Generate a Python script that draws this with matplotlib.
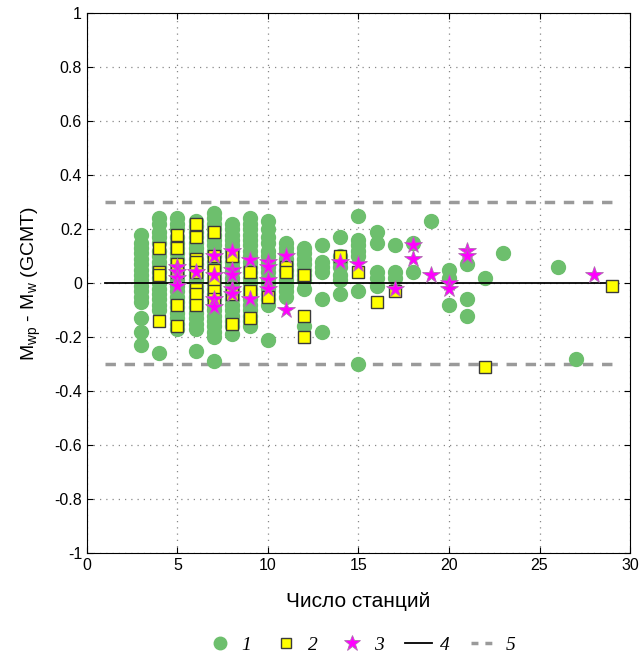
import matplotlib
matplotlib.use('Agg')
import matplotlib.pyplot as plt
from matplotlib.lines import Line2D

plt.rcParams['font.family'] = ['Liberation Sans', 'DejaVu Sans']
plt.rcParams['axes.unicode_minus'] = False
plt.rcParams['mathtext.default'] = 'regular'

# 1: все события (зелёные кружки), по числу станций
green_st = [3, 4, 5, 6, 7, 8, 9, 10, 11, 12, 13, 14, 15, 16, 17, 18, 19, 20, 21, 22, 23, 26, 27]
green_vals = [
    [0.18, 0.15, 0.13, 0.11, 0.09, 0.07, 0.05, 0.03, 0.01, -0.01, -0.03, -0.05, -0.07, -0.13, -0.18, -0.23],
    [0.24, 0.22, 0.19, 0.17, 0.15, 0.12, 0.10, 0.08, 0.06, 0.04, 0.02, 0.0, -0.02, -0.04, -0.06, -0.08, -0.10, -0.26],
    [0.24, 0.22, 0.20, 0.17, 0.15, 0.13, 0.11, 0.09, 0.07, 0.05, 0.03, 0.01, -0.01, -0.03, -0.05, -0.07, -0.09,
     -0.11, -0.13, -0.15, -0.17],
    [0.23, 0.21, 0.19, 0.17, 0.15, 0.13, 0.11, 0.09, 0.07, 0.05, 0.03, 0.01, -0.01, -0.03, -0.05, -0.07, -0.09,
     -0.11, -0.13, -0.15, -0.17, -0.25],
    [0.26, 0.24, 0.22, 0.20, 0.18, 0.16, 0.14, 0.12, 0.10, 0.08, 0.06, 0.04, 0.02, 0.0, -0.02, -0.04, -0.06,
     -0.08, -0.10, -0.12, -0.14, -0.16, -0.18, -0.20, -0.29],
    [0.22, 0.20, 0.18, 0.16, 0.14, 0.12, 0.10, 0.08, 0.06, 0.04, 0.02, 0.0, -0.02, -0.04, -0.06, -0.08, -0.10,
     -0.12, -0.14, -0.16, -0.19],
    [0.24, 0.22, 0.20, 0.18, 0.16, 0.14, 0.12, 0.10, 0.08, 0.06, 0.04, 0.02, 0.0, -0.02, -0.04, -0.06, -0.08,
     -0.10, -0.12, -0.14, -0.16],
    [0.23, 0.20, 0.17, 0.15, 0.12, 0.10, 0.08, 0.06, 0.04, 0.02, 0.0, -0.02, -0.04, -0.06, -0.08, -0.21],
    [0.15, 0.13, 0.11, 0.09, 0.07, 0.05, 0.03, 0.01, -0.01, -0.03, -0.05],
    [0.13, 0.11, 0.09, 0.07, 0.05, 0.03, 0.01, -0.02, -0.16],
    [0.14, 0.08, 0.06, 0.04, -0.06, -0.18],
    [0.17, 0.10, 0.08, 0.06, 0.03, 0.01, -0.04],
    [0.25, 0.16, 0.14, 0.12, 0.10, -0.03, -0.30],
    [0.19, 0.15, 0.04, 0.02, -0.01],
    [0.14, 0.04, 0.02],
    [0.15, 0.04],
    [0.23],
    [0.05, 0.02, -0.08],
    [0.07, -0.06, -0.12],
    [0.02],
    [0.11],
    [0.06],
    [-0.28],
]

# 2: жёлтые квадраты
sq_st = [4, 5, 6, 7, 8, 9, 10, 11, 12, 14, 15, 16, 17, 22, 29]
sq_vals = [
    [0.13, 0.04, 0.03, -0.14],
    [0.18, 0.13, 0.07, 0.04, -0.08, -0.16],
    [0.22, 0.17, 0.09, 0.08, 0.04, -0.02, -0.04, -0.08],
    [0.19, 0.10, 0.05, 0.01, -0.03, -0.06],
    [0.10, -0.04, -0.15],
    [0.04, -0.03, -0.13],
    [-0.05],
    [0.06, 0.04],
    [0.03, -0.12, -0.20],
    [0.10],
    [0.04],
    [-0.07],
    [-0.03],
    [-0.31],
    [-0.01],
]

# 3: звёздочки
star_st = [5, 6, 7, 8, 9, 10, 11, 14, 15, 17, 18, 19, 20, 21, 28]
star_vals = [
    [0.06, 0.04, 0.02, -0.01],
    [0.04],
    [0.10, 0.03, -0.06, -0.09],
    [0.12, 0.05, 0.03, -0.02, -0.04],
    [0.085, -0.06],
    [0.08, 0.06, 0.01, -0.02],
    [0.10, -0.10],
    [0.08],
    [0.07],
    [-0.02],
    [0.14, 0.09],
    [0.03],
    [0.0, -0.02],
    [0.12, 0.10],
    [0.03],
]

# 4, 5: линии
line_x = [1, 29]
zero_y = 0.0
band = 0.3


def flatten(stations, values):
    xs, ys = [], []
    for s, vals in zip(stations, values):
        xs += [s] * len(vals)
        ys += vals
    return xs, ys


fig = plt.figure(figsize=(6.39, 6.57), dpi=100)
ax = fig.add_axes([0.136, 0.158, 0.850, 0.822])

ax.plot(line_x, [band, band], '--', color='#9a9a9a', lw=2.5, dashes=(3, 2.5), zorder=1)
ax.plot(line_x, [-band, -band], '--', color='#9a9a9a', lw=2.5, dashes=(3, 2.5), zorder=1)

gx, gy = flatten(green_st, green_vals)
ax.plot(gx, gy, 'o', ms=10, color='#6dbf6d', mec='#6dbf6d', zorder=2)

ax.plot(line_x, [zero_y, zero_y], '-', color='black', lw=1.3, zorder=3)

sx, sy = flatten(sq_st, sq_vals)
ax.plot(sx, sy, 's', ms=9, color='#ffff00', mec='#3a3a3a', mew=1.0, zorder=4)

tx, ty = flatten(star_st, star_vals)
ax.plot(tx, ty, '*', ms=13, color='#ff00ff', mec='#b070b0', mew=0.6, zorder=5)

ax.set_xlim(0, 30)
ax.set_ylim(-1, 1)
ax.set_xticks(range(0, 31, 5))
ax.set_yticks([-1, -0.8, -0.6, -0.4, -0.2, 0, 0.2, 0.4, 0.6, 0.8, 1])
ax.set_yticklabels(['-1', '-0.8', '-0.6', '-0.4', '-0.2', '0', '0.2', '0.4', '0.6', '0.8', '1'])
ax.tick_params(direction='in', top=True, right=True, labelsize=11.5, length=4)
ax.grid(True, linestyle=(0, (1, 4)), color='#888888', lw=0.9)
for sp in ax.spines.values():
    sp.set_linewidth(0.8)

ax.set_xlabel('Число станций', fontsize=15, labelpad=14)
ax.set_ylabel('M$_{wp}$ - M$_{w}$ (GCMT)', fontsize=14, labelpad=8)

handles = [
    Line2D([], [], marker='o', ls='none', ms=9, color='#6dbf6d', mec='#6dbf6d'),
    Line2D([], [], marker='s', ls='none', ms=7.5, color='#ffff00', mec='#3a3a3a'),
    Line2D([], [], marker='*', ls='none', ms=12, color='#ff00ff', mec='#b070b0', mew=0.6),
    Line2D([], [], ls='-', color='black', lw=1.3),
    Line2D([], [], ls='--', color='#9a9a9a', lw=2.5, dashes=(2, 2)),
]
fig.legend(handles, ['1', '2', '3', '4', '5'], loc='center', bbox_to_anchor=(0.565, 0.018), ncol=5,
           frameon=False, handlelength=1.4, columnspacing=1.1, handletextpad=0.4,
           prop={'family': 'Liberation Serif', 'style': 'italic', 'size': 14})

fig.savefig('out.png', dpi=100)
